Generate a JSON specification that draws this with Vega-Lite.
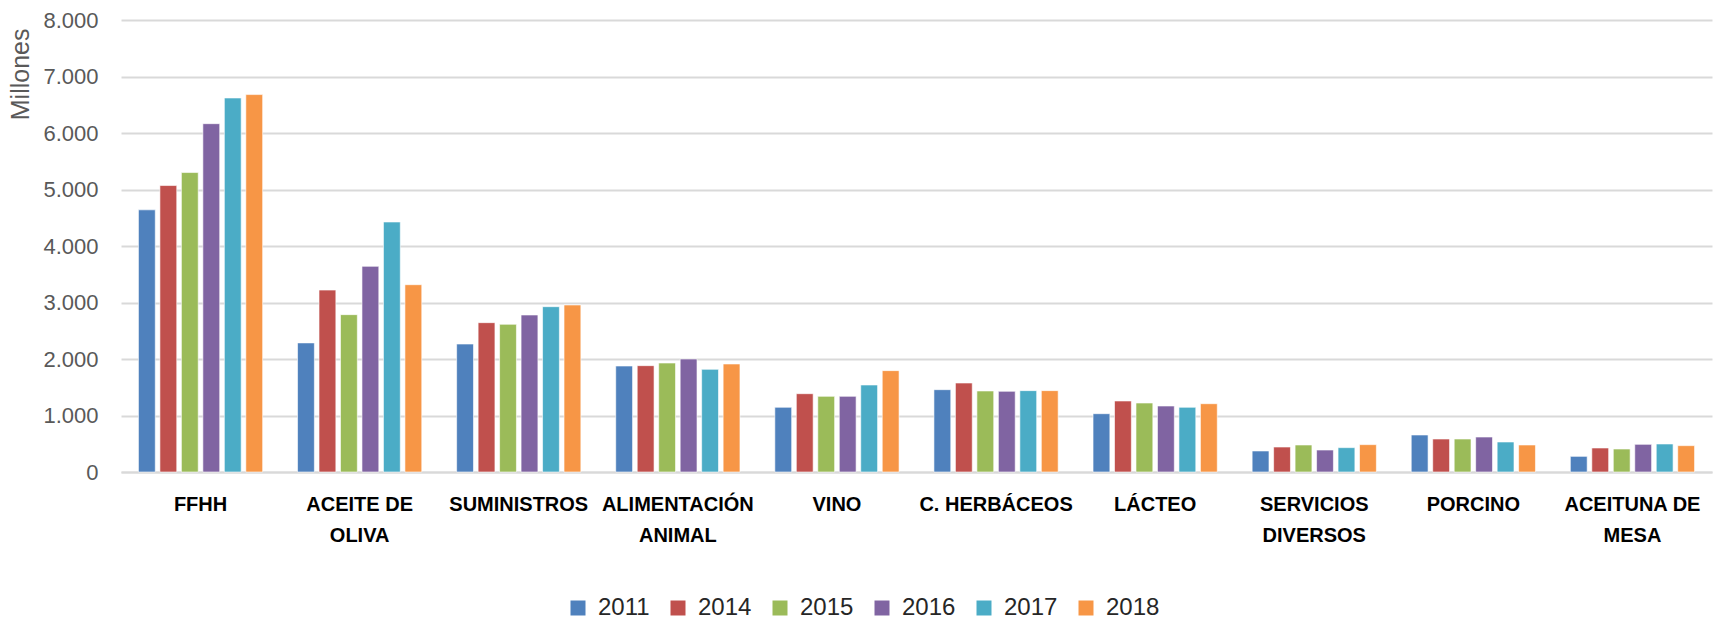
{
  "$schema": "https://vega.github.io/schema/vega-lite/v6.json",
  "width": 1591,
  "height": 452,
  "autosize": {"type": "none"},
  "padding": {"left": 121, "top": 20, "right": 1, "bottom": 147},
  "background": "white",
  "data": {
    "values": [
      {"c": "FFHH", "y": "2011", "v": 4640},
      {"c": "FFHH", "y": "2014", "v": 5070},
      {"c": "FFHH", "y": "2015", "v": 5300},
      {"c": "FFHH", "y": "2016", "v": 6165},
      {"c": "FFHH", "y": "2017", "v": 6620},
      {"c": "FFHH", "y": "2018", "v": 6680},
      {"c": "ACEITE DE OLIVA", "y": "2011", "v": 2285},
      {"c": "ACEITE DE OLIVA", "y": "2014", "v": 3220},
      {"c": "ACEITE DE OLIVA", "y": "2015", "v": 2785},
      {"c": "ACEITE DE OLIVA", "y": "2016", "v": 3640},
      {"c": "ACEITE DE OLIVA", "y": "2017", "v": 4425},
      {"c": "ACEITE DE OLIVA", "y": "2018", "v": 3315},
      {"c": "SUMINISTROS", "y": "2011", "v": 2265},
      {"c": "SUMINISTROS", "y": "2014", "v": 2643},
      {"c": "SUMINISTROS", "y": "2015", "v": 2614},
      {"c": "SUMINISTROS", "y": "2016", "v": 2779},
      {"c": "SUMINISTROS", "y": "2017", "v": 2926},
      {"c": "SUMINISTROS", "y": "2018", "v": 2956},
      {"c": "ALIMENTACIÓN ANIMAL", "y": "2011", "v": 1876},
      {"c": "ALIMENTACIÓN ANIMAL", "y": "2014", "v": 1882},
      {"c": "ALIMENTACIÓN ANIMAL", "y": "2015", "v": 1929},
      {"c": "ALIMENTACIÓN ANIMAL", "y": "2016", "v": 2000},
      {"c": "ALIMENTACIÓN ANIMAL", "y": "2017", "v": 1817},
      {"c": "ALIMENTACIÓN ANIMAL", "y": "2018", "v": 1912},
      {"c": "VINO", "y": "2011", "v": 1145},
      {"c": "VINO", "y": "2014", "v": 1386},
      {"c": "VINO", "y": "2015", "v": 1339},
      {"c": "VINO", "y": "2016", "v": 1339},
      {"c": "VINO", "y": "2017", "v": 1540},
      {"c": "VINO", "y": "2018", "v": 1794},
      {"c": "C. HERBÁCEOS", "y": "2011", "v": 1457},
      {"c": "C. HERBÁCEOS", "y": "2014", "v": 1575},
      {"c": "C. HERBÁCEOS", "y": "2015", "v": 1434},
      {"c": "C. HERBÁCEOS", "y": "2016", "v": 1428},
      {"c": "C. HERBÁCEOS", "y": "2017", "v": 1440},
      {"c": "C. HERBÁCEOS", "y": "2018", "v": 1440},
      {"c": "LÁCTEO", "y": "2011", "v": 1032},
      {"c": "LÁCTEO", "y": "2014", "v": 1257},
      {"c": "LÁCTEO", "y": "2015", "v": 1221},
      {"c": "LÁCTEO", "y": "2016", "v": 1168},
      {"c": "LÁCTEO", "y": "2017", "v": 1145},
      {"c": "LÁCTEO", "y": "2018", "v": 1209},
      {"c": "SERVICIOS DIVERSOS", "y": "2011", "v": 372},
      {"c": "SERVICIOS DIVERSOS", "y": "2014", "v": 442},
      {"c": "SERVICIOS DIVERSOS", "y": "2015", "v": 478},
      {"c": "SERVICIOS DIVERSOS", "y": "2016", "v": 389},
      {"c": "SERVICIOS DIVERSOS", "y": "2017", "v": 431},
      {"c": "SERVICIOS DIVERSOS", "y": "2018", "v": 484},
      {"c": "PORCINO", "y": "2011", "v": 655},
      {"c": "PORCINO", "y": "2014", "v": 584},
      {"c": "PORCINO", "y": "2015", "v": 584},
      {"c": "PORCINO", "y": "2016", "v": 619},
      {"c": "PORCINO", "y": "2017", "v": 531},
      {"c": "PORCINO", "y": "2018", "v": 478},
      {"c": "ACEITUNA DE MESA", "y": "2011", "v": 277},
      {"c": "ACEITUNA DE MESA", "y": "2014", "v": 425},
      {"c": "ACEITUNA DE MESA", "y": "2015", "v": 407},
      {"c": "ACEITUNA DE MESA", "y": "2016", "v": 490},
      {"c": "ACEITUNA DE MESA", "y": "2017", "v": 496},
      {"c": "ACEITUNA DE MESA", "y": "2018", "v": 466}
    ]
  },
  "mark": {"type": "bar", "stroke": "white", "strokeWidth": 1, "strokeOpacity": 0.6},
  "encoding": {
    "x": {
      "field": "c",
      "type": "nominal",
      "sort": null,
      "scale": {"paddingInner": 0.19, "paddingOuter": 0.095},
      "axis": {
        "title": null,
        "labelAngle": 0,
        "labelFont": "Liberation Sans",
        "labelFontSize": 20,
        "labelFontWeight": "bold",
        "labelColor": "#000000",
        "labelPadding": 22,
        "labelLineHeight": 31,
        "labelOverlap": false,
        "labelBound": false,
        "labelLimit": 400,
        "ticks": false,
        "domain": true,
        "domainColor": "#d9d9d9",
        "domainWidth": 2,
        "grid": false,
        "labelExpr": "datum.value == 'ACEITE DE OLIVA' ? ['ACEITE DE', 'OLIVA'] : datum.value == 'ALIMENTACIÓN ANIMAL' ? ['ALIMENTACIÓN', 'ANIMAL'] : datum.value == 'SERVICIOS DIVERSOS' ? ['SERVICIOS', 'DIVERSOS'] : datum.value == 'ACEITUNA DE MESA' ? ['ACEITUNA DE', 'MESA'] : datum.value"
      }
    },
    "xOffset": {
      "field": "y",
      "type": "nominal",
      "scale": {"paddingInner": 0.216, "paddingOuter": 0.108}
    },
    "y": {
      "field": "v",
      "type": "quantitative",
      "scale": {"domain": [0, 8000], "nice": false},
      "axis": {
        "title": "Millones",
        "titleFont": "Liberation Sans",
        "titleFontSize": 25,
        "titleFontWeight": "normal",
        "titleColor": "#595959",
        "titleAnchor": "end",
        "titleY": 8,
        "titlePadding": 9,
        "values": [0, 1000, 2000, 3000, 4000, 5000, 6000, 7000, 8000],
        "labelExpr": "replace(format(datum.value, ','), ',', '.')",
        "labelFont": "Liberation Sans",
        "labelFontSize": 22,
        "labelColor": "#595959",
        "labelPadding": 23,
        "ticks": false,
        "domain": false,
        "grid": true,
        "gridColor": "#d9d9d9",
        "gridWidth": 2
      }
    },
    "color": {
      "field": "y",
      "type": "nominal",
      "scale": {
        "domain": ["2011", "2014", "2015", "2016", "2017", "2018"],
        "range": ["#4f81bd", "#c0504d", "#9bbb59", "#8064a2", "#4bacc6", "#f79646"]
      },
      "legend": {
        "title": null,
        "orient": "none",
        "direction": "horizontal",
        "legendX": 445,
        "legendY": 576,
        "padding": 0,
        "symbolType": "square",
        "symbolSize": 225,
        "symbolStrokeWidth": 0,
        "symbolOpacity": 1,
        "labelFont": "Liberation Sans",
        "labelFontSize": 24,
        "labelColor": "#262626",
        "labelOffset": 8,
        "columnPadding": 16
      }
    }
  },
  "config": {
    "view": {"stroke": null}
  }
}
